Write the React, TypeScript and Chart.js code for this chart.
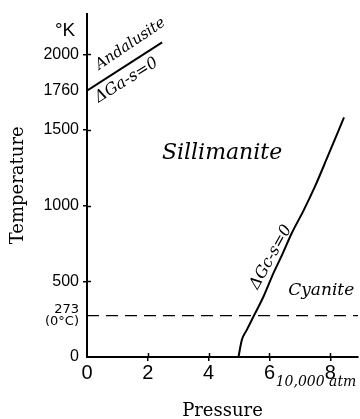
import React, { useEffect, useRef } from "react";
import { Chart, registerables } from "chart.js";

Chart.register(...registerables);

// Andalusite / Sillimanite boundary (ΔGa-s = 0)
const andalusiteP = [0, 2.47];
const andalusiteT = [1760, 2080];

// Cyanite / Sillimanite boundary (ΔGc-s = 0)
const cyaniteP = [4.98, 5.09, 5.25, 5.47, 5.8, 6.13, 6.41, 6.73, 7.11, 7.5, 7.89, 8.45];
const cyaniteT = [0, 112, 178, 266, 398, 554, 673, 818, 964, 1129, 1314, 1584];

// 273 K (0 °C) reference line
const freezingP = [0, 8.91];
const freezingT = [273, 273];

const xTickValues = [0, 2, 4, 6, 8];
const yTickValues = [0, 273, 500, 1000, 1500, 1760, 2000];
const yTickLabels: (string | string[])[] = ["0", ["273", "(0°C)"], "500", "1000", "1500", "1760", "2000"];
const yTickMarked = [0, 500, 1000, 1500, 2000];

const X_MAX = 8.91;
const Y_MAX = 2270;

type Note = { text: string; p: number; t: number; angle: number; font: string };
const notes: Note[] = [
  { text: "°K", p: -0.72, t: 2158, angle: 0, font: "19px 'Liberation Sans'" },
  { text: "Andalusite", p: 1.43, t: 2069, angle: -34, font: "italic 15px 'DejaVu Serif'" },
  { text: "ΔGa-s=0", p: 1.3, t: 1828, angle: -32, font: "italic 16px 'DejaVu Serif'" },
  { text: "Sillimanite", p: 4.44, t: 1346, angle: 0, font: "italic 22px 'DejaVu Serif'" },
  { text: "Cyanite", p: 7.7, t: 442, angle: 0, font: "italic 17px 'DejaVu Serif'" },
  { text: "ΔGc-s=0", p: 6.05, t: 660, angle: -61, font: "italic 16px 'DejaVu Serif'" },
  { text: "10,000 atm", p: 7.53, t: -165, angle: 0, font: "italic 14px 'DejaVu Serif'" },
];

const toPoints = (xs: number[], ys: number[]) => xs.map((x, i) => ({ x, y: ys[i] }));

const notesPlugin = {
  id: "notes",
  afterDraw(chart: any) {
    const { ctx, scales } = chart;
    const xs = scales.x;
    const ys = scales.y;
    ctx.save();
    ctx.fillStyle = "#000";
    ctx.strokeStyle = "#000";
    // inner halves of the crossing tick marks
    ctx.lineWidth = 1.5;
    const left = chart.chartArea.left;
    const bottom = chart.chartArea.bottom;
    xTickValues.forEach((v) => {
      if (v === 0) return;
      const px = Math.round(xs.getPixelForValue(v)) + 0.5;
      ctx.beginPath();
      ctx.moveTo(px, bottom);
      ctx.lineTo(px, bottom - 4);
      ctx.stroke();
    });
    yTickMarked.forEach((v) => {
      if (v === 0) return;
      const py = Math.round(ys.getPixelForValue(v)) + 0.5;
      ctx.beginPath();
      ctx.moveTo(left, py);
      ctx.lineTo(left + 4, py);
      ctx.stroke();
    });
    ctx.textAlign = "center";
    ctx.textBaseline = "middle";
    notes.forEach((n) => {
      const x = xs.getPixelForValue(n.p);
      const y = ys.getPixelForValue(n.t);
      ctx.save();
      ctx.translate(x, y);
      ctx.rotate((n.angle * Math.PI) / 180);
      ctx.font = n.font;
      ctx.fillText(n.text, 0, 0);
      ctx.restore();
    });
    ctx.restore();
  },
};

export default function App() {
  const ref = useRef<HTMLCanvasElement | null>(null);
  useEffect(() => {
    document.body.style.margin = "0";
    if (!ref.current) return;
    const lineStyle = {
      showLine: true,
      pointRadius: 0,
      borderColor: "#000",
      backgroundColor: "#000",
      fill: false,
    };
    const chart = new Chart(ref.current, {
      type: "scatter",
      data: {
        datasets: [
          { ...lineStyle, data: toPoints(andalusiteP, andalusiteT), borderWidth: 2 },
          {
            ...lineStyle,
            data: toPoints(cyaniteP, cyaniteT),
            borderWidth: 2,
            cubicInterpolationMode: "monotone",
          },
          { ...lineStyle, data: toPoints(freezingP, freezingT), borderWidth: 1.3, borderDash: [12, 7] },
        ],
      },
      options: {
        animation: false,
        responsive: false,
        layout: { padding: { top: 13, right: 2, left: 0, bottom: 0 } },
        plugins: { legend: { display: false }, tooltip: { enabled: false } },
        scales: {
          x: {
            type: "linear",
            min: 0,
            max: X_MAX,
            afterBuildTicks: (scale: any) => {
              scale.ticks = xTickValues.map((value) => ({ value }));
            },
            afterFit: (scale: any) => {
              scale.height = 62;
            },
            border: { display: true, color: "#000", width: 2 },
            grid: {
              drawOnChartArea: false,
              drawTicks: true,
              tickLength: 4,
              color: (c: any) => (c.tick && c.tick.value === 0 ? "rgba(0,0,0,0)" : "#000"),
              lineWidth: 1.5,
            },
            ticks: {
              color: "#000",
              padding: 0,
              maxRotation: 0,
              font: { family: "'Liberation Sans'", size: 20 },
              callback: (v: any) => String(v),
            },
            title: {
              display: true,
              text: "Pressure",
              color: "#000",
              font: { family: "'DejaVu Serif'", size: 18 },
              padding: { top: 0, bottom: -3 },
            },
          },
          y: {
            type: "linear",
            min: 0,
            max: Y_MAX,
            afterBuildTicks: (scale: any) => {
              scale.ticks = yTickValues.map((value) => ({ value }));
            },
            afterFit: (scale: any) => {
              scale.width = 87;
            },
            border: { display: true, color: "#000", width: 2 },
            grid: {
              drawOnChartArea: false,
              drawTicks: true,
              tickLength: 4,
              color: (c: any) =>
                c.tick && yTickMarked.includes(c.tick.value) && c.tick.value !== 0 ? "#000" : "rgba(0,0,0,0)",
              lineWidth: 1.5,
            },
            ticks: {
              color: "#000",
              padding: 4,
              font: (c: any) =>
                c.tick && c.tick.value === 273
                  ? { family: "'DejaVu Sans'", size: 13, lineHeight: 0.95 }
                  : { family: "'Liberation Sans'", size: 16 },
              callback: (v: any) => {
                const i = yTickValues.indexOf(Number(v));
                return i >= 0 ? (yTickLabels[i] as any) : "";
              },
            },
            title: {
              display: true,
              text: "Temperature",
              color: "#000",
              font: { family: "'DejaVu Serif'", size: 18 },
              padding: { top: 8, bottom: 0 },
            },
          },
        },
      },
      plugins: [notesPlugin],
    } as any);
    return () => chart.destroy();
  }, []);
  return (
    <div style={{ width: 360, height: 419, background: "#fff" }}>
      <canvas ref={ref} width={360} height={419} style={{ display: "block" }} />
    </div>
  );
}
